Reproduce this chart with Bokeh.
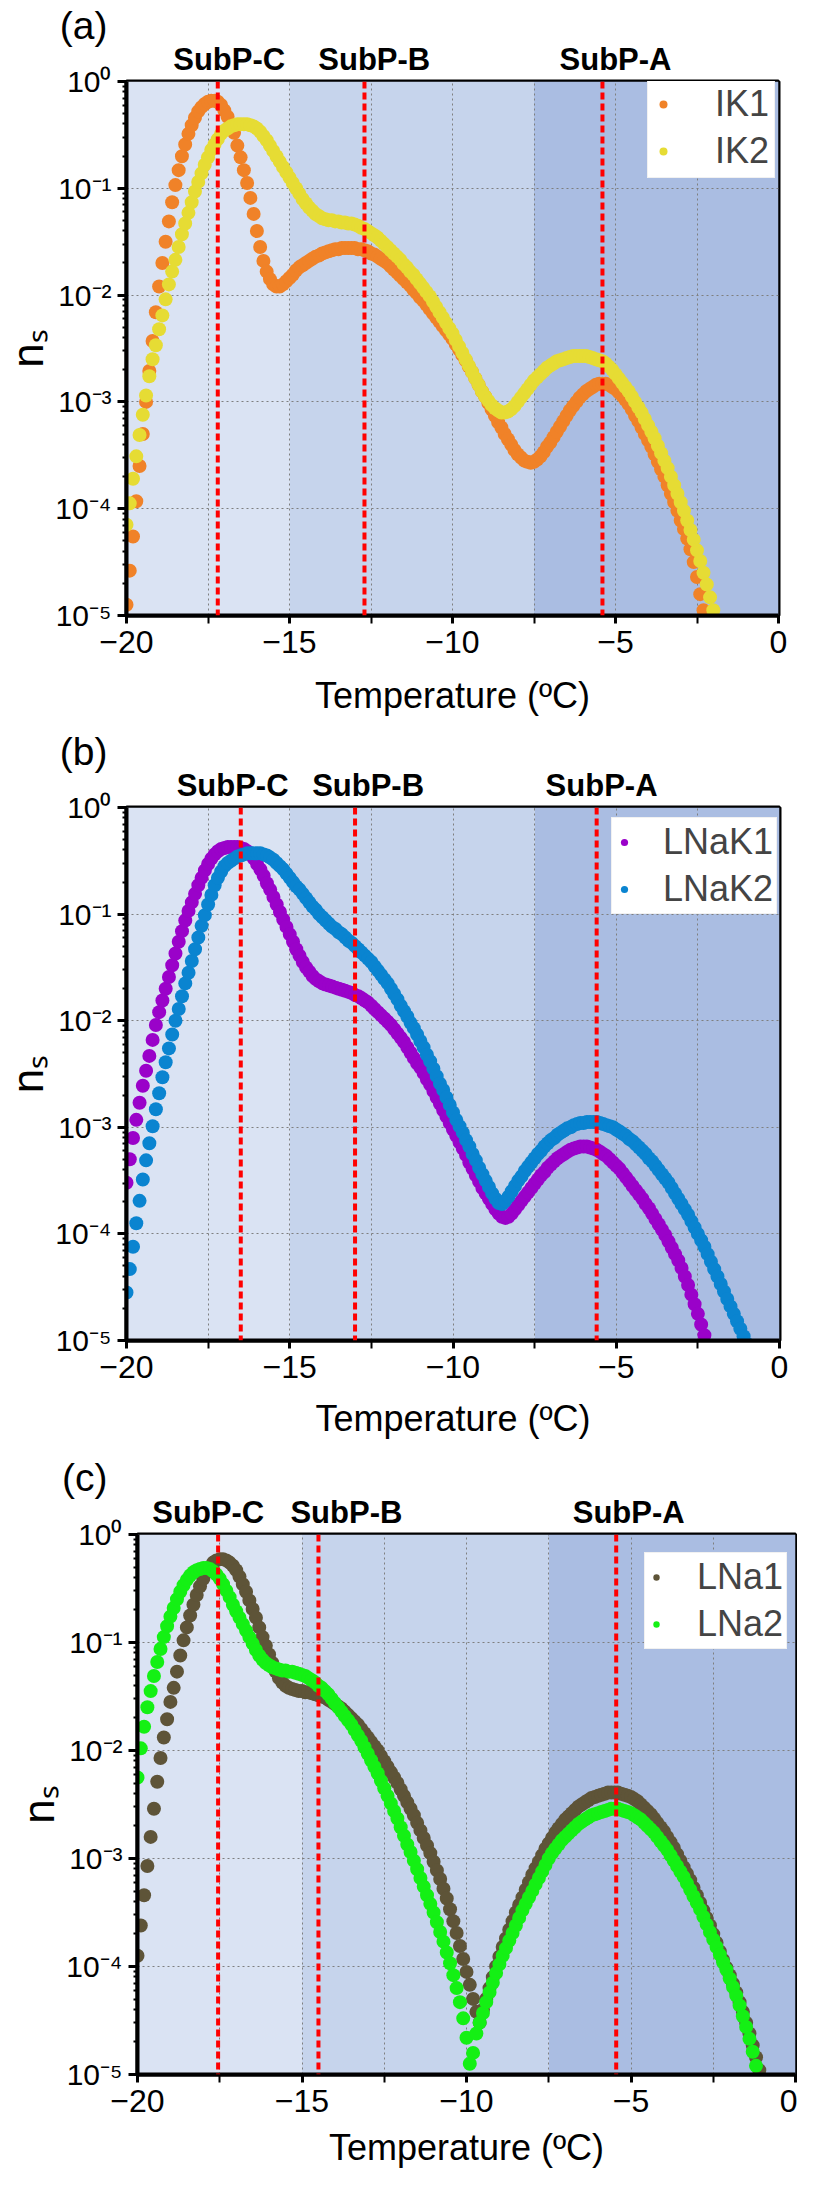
import numpy as np
import bokeh.layouts
import bokeh.models
import bokeh.plotting
from bokeh.embed import file_html
from bokeh.resources import INLINE

FONT = "Liberation Sans"

# every series is sampled each 0.1 degC starting at -20.0
t_start = -20.0
t_step = 0.1

# log10(n_s)
ik1_log = [
    -4.90, -4.58, -4.26, -3.93, -3.60, -3.30, -3.00, -2.71, -2.43, -2.16,
    -1.92, -1.70, -1.50, -1.31, -1.13, -0.97, -0.83, -0.70, -0.59, -0.49,
    -0.41, -0.34, -0.28, -0.24, -0.21, -0.19, -0.18, -0.18, -0.19, -0.22,
    -0.27, -0.33, -0.40, -0.48, -0.60, -0.71, -0.83, -0.95, -1.09, -1.24,
    -1.40, -1.55, -1.68, -1.78, -1.85, -1.90, -1.92, -1.92, -1.90, -1.87,
    -1.84, -1.81, -1.77, -1.74, -1.72, -1.70, -1.68, -1.66, -1.64, -1.63,
    -1.61, -1.60, -1.59, -1.58, -1.57, -1.57, -1.56, -1.56, -1.56, -1.56,
    -1.56, -1.57, -1.57, -1.58, -1.59, -1.61, -1.62, -1.64, -1.66, -1.68,
    -1.70, -1.73, -1.76, -1.79, -1.82, -1.85, -1.88, -1.91, -1.95, -1.98,
    -2.02, -2.05, -2.09, -2.13, -2.17, -2.21, -2.25, -2.29, -2.33, -2.37,
    -2.41, -2.46, -2.51, -2.56, -2.61, -2.67, -2.72, -2.78, -2.84, -2.90,
    -2.95, -3.01, -3.07, -3.13, -3.19, -3.24, -3.30, -3.35, -3.40, -3.45,
    -3.49, -3.52, -3.55, -3.56, -3.57, -3.56, -3.54, -3.51, -3.47, -3.42,
    -3.38, -3.33, -3.28, -3.23, -3.18, -3.13, -3.08, -3.04, -3.00, -2.96,
    -2.93, -2.90, -2.88, -2.86, -2.84, -2.83, -2.83, -2.83, -2.84, -2.86,
    -2.88, -2.91, -2.94, -2.98, -3.02, -3.07, -3.13, -3.18, -3.24, -3.30,
    -3.36, -3.42, -3.49, -3.56, -3.63, -3.70, -3.78, -3.86, -3.94, -4.02,
    -4.11, -4.19, -4.28, -4.38, -4.50, -4.64, -4.80, -4.95, -5.10,
]
ik2_log = [
    -4.15, -3.95, -3.72, -3.51, -3.31, -3.12, -2.94, -2.76, -2.60, -2.47,
    -2.32, -2.19, -2.04, -1.90, -1.78, -1.67, -1.55, -1.43, -1.33, -1.23,
    -1.13, -1.03, -0.94, -0.86, -0.78, -0.71, -0.64, -0.59, -0.54, -0.49,
    -0.46, -0.44, -0.42, -0.41, -0.40, -0.40, -0.40, -0.40, -0.41, -0.42,
    -0.44, -0.47, -0.51, -0.55, -0.60, -0.65, -0.70, -0.75, -0.80, -0.85,
    -0.90, -0.95, -1.00, -1.05, -1.10, -1.14, -1.18, -1.21, -1.24, -1.26,
    -1.28, -1.29, -1.30, -1.30, -1.31, -1.31, -1.32, -1.32, -1.33, -1.33,
    -1.34, -1.35, -1.37, -1.38, -1.40, -1.42, -1.44, -1.46, -1.49, -1.52,
    -1.55, -1.58, -1.61, -1.64, -1.67, -1.71, -1.74, -1.78, -1.81, -1.85,
    -1.89, -1.93, -1.97, -2.01, -2.06, -2.11, -2.16, -2.21, -2.26, -2.31,
    -2.36, -2.42, -2.48, -2.54, -2.60, -2.66, -2.72, -2.78, -2.84, -2.90,
    -2.95, -2.99, -3.03, -3.06, -3.08, -3.10, -3.10, -3.09, -3.07, -3.04,
    -3.00, -2.96, -2.92, -2.88, -2.84, -2.80, -2.77, -2.74, -2.71, -2.68,
    -2.66, -2.64, -2.62, -2.61, -2.60, -2.59, -2.58, -2.57, -2.57, -2.57,
    -2.57, -2.57, -2.58, -2.59, -2.60, -2.61, -2.62, -2.64, -2.67, -2.70,
    -2.74, -2.78, -2.82, -2.86, -2.90, -2.95, -3.00, -3.05, -3.10, -3.16,
    -3.22, -3.28, -3.34, -3.41, -3.48, -3.55, -3.62, -3.70, -3.78, -3.86,
    -3.94, -4.02, -4.11, -4.20, -4.29, -4.39, -4.49, -4.60, -4.71, -4.83,
    -4.95, -5.07,
]
lnak1_log = [
    -3.52, -3.30, -3.10, -2.93, -2.77, -2.61, -2.47, -2.33, -2.18, -2.04,
    -1.92, -1.81, -1.70, -1.59, -1.48, -1.37, -1.26, -1.16, -1.06, -0.97,
    -0.89, -0.81, -0.73, -0.66, -0.59, -0.53, -0.48, -0.44, -0.41, -0.39,
    -0.38, -0.37, -0.37, -0.37, -0.37, -0.38, -0.39, -0.41, -0.44, -0.48,
    -0.53, -0.58, -0.64, -0.71, -0.77, -0.84, -0.91, -0.98, -1.05, -1.12,
    -1.19, -1.26, -1.33, -1.39, -1.45, -1.50, -1.54, -1.58, -1.61, -1.63,
    -1.65, -1.66, -1.67, -1.68, -1.69, -1.70, -1.71, -1.72, -1.73, -1.74,
    -1.76, -1.77, -1.79, -1.81, -1.83, -1.86, -1.89, -1.92, -1.95, -1.98,
    -2.01, -2.04, -2.08, -2.12, -2.16, -2.20, -2.25, -2.30, -2.35, -2.40,
    -2.44, -2.49, -2.55, -2.60, -2.66, -2.72, -2.78, -2.84, -2.90, -2.96,
    -3.02, -3.08, -3.14, -3.20, -3.26, -3.33, -3.39, -3.45, -3.51, -3.57,
    -3.62, -3.67, -3.72, -3.77, -3.81, -3.84, -3.85, -3.84, -3.81, -3.77,
    -3.73, -3.69, -3.65, -3.61, -3.57, -3.53, -3.49, -3.45, -3.42, -3.38,
    -3.35, -3.32, -3.29, -3.27, -3.25, -3.23, -3.21, -3.20, -3.19, -3.18,
    -3.18, -3.18, -3.19, -3.20, -3.21, -3.23, -3.25, -3.27, -3.30, -3.33,
    -3.36, -3.39, -3.43, -3.47, -3.51, -3.55, -3.59, -3.63, -3.67, -3.72,
    -3.76, -3.81, -3.86, -3.91, -3.96, -4.01, -4.07, -4.13, -4.19, -4.25,
    -4.32, -4.40, -4.48, -4.57, -4.66, -4.75, -4.85, -4.95, -5.05,
]
lnak2_log = [
    -4.55, -4.33, -4.12, -3.90, -3.69, -3.49, -3.31, -3.15, -2.99, -2.83,
    -2.68, -2.53, -2.39, -2.26, -2.13, -2.00, -1.89, -1.77, -1.65, -1.55,
    -1.44, -1.33, -1.22, -1.11, -1.01, -0.91, -0.82, -0.73, -0.66, -0.60,
    -0.55, -0.52, -0.50, -0.48, -0.46, -0.45, -0.44, -0.43, -0.43, -0.43,
    -0.43, -0.43, -0.44, -0.45, -0.47, -0.49, -0.52, -0.55, -0.58, -0.62,
    -0.66, -0.70, -0.74, -0.77, -0.81, -0.85, -0.89, -0.93, -0.96, -1.00,
    -1.03, -1.06, -1.09, -1.12, -1.14, -1.17, -1.19, -1.22, -1.25, -1.27,
    -1.30, -1.33, -1.36, -1.39, -1.42, -1.45, -1.49, -1.53, -1.57, -1.61,
    -1.65, -1.70, -1.75, -1.80, -1.86, -1.91, -1.96, -2.02, -2.07, -2.13,
    -2.19, -2.25, -2.32, -2.38, -2.45, -2.52, -2.59, -2.65, -2.72, -2.79,
    -2.86, -2.93, -2.99, -3.05, -3.12, -3.18, -3.25, -3.31, -3.38, -3.44,
    -3.50, -3.56, -3.62, -3.67, -3.71, -3.72, -3.69, -3.65, -3.60, -3.55,
    -3.50, -3.46, -3.41, -3.37, -3.33, -3.29, -3.25, -3.22, -3.18, -3.15,
    -3.12, -3.10, -3.07, -3.05, -3.03, -3.01, -3.00, -2.98, -2.97, -2.96,
    -2.96, -2.95, -2.95, -2.95, -2.95, -2.96, -2.97, -2.98, -2.99, -3.00,
    -3.02, -3.04, -3.06, -3.08, -3.11, -3.13, -3.16, -3.19, -3.22, -3.25,
    -3.29, -3.32, -3.36, -3.40, -3.44, -3.48, -3.52, -3.57, -3.62, -3.67,
    -3.72, -3.77, -3.82, -3.88, -3.94, -4.00, -4.06, -4.12, -4.19, -4.26,
    -4.33, -4.40, -4.47, -4.54, -4.61, -4.68, -4.75, -4.82, -4.89, -4.96,
    -5.03,
]
lna1_log = [
    -3.90, -3.62, -3.34, -3.07, -2.80, -2.54, -2.29, -2.07, -1.88, -1.71,
    -1.55, -1.42, -1.27, -1.12, -0.98, -0.86, -0.75, -0.65, -0.56, -0.48,
    -0.41, -0.35, -0.30, -0.26, -0.24, -0.23, -0.23, -0.24, -0.26, -0.29,
    -0.33, -0.39, -0.46, -0.53, -0.61, -0.69, -0.77, -0.86, -0.95, -1.03,
    -1.11, -1.19, -1.27, -1.33, -1.37, -1.40, -1.42, -1.43, -1.44, -1.45,
    -1.45, -1.46, -1.46, -1.47, -1.48, -1.49, -1.50, -1.51, -1.53, -1.55,
    -1.57, -1.59, -1.61, -1.64, -1.67, -1.70, -1.73, -1.76, -1.80, -1.84,
    -1.88, -1.92, -1.96, -2.00, -2.05, -2.10, -2.15, -2.20, -2.25, -2.30,
    -2.36, -2.42, -2.48, -2.54, -2.60, -2.67, -2.74, -2.81, -2.88, -2.95,
    -3.03, -3.11, -3.19, -3.28, -3.37, -3.47, -3.58, -3.69, -3.81, -3.93,
    -4.05, -4.17, -4.30, -4.42, -4.52, -4.40, -4.30, -4.20, -4.10, -4.00,
    -3.91, -3.82, -3.74, -3.66, -3.58, -3.50, -3.43, -3.36, -3.29, -3.22,
    -3.15, -3.09, -3.03, -2.97, -2.91, -2.86, -2.81, -2.76, -2.72, -2.68,
    -2.64, -2.61, -2.58, -2.55, -2.52, -2.50, -2.48, -2.46, -2.44, -2.43,
    -2.42, -2.41, -2.40, -2.39, -2.39, -2.39, -2.39, -2.40, -2.41, -2.42,
    -2.43, -2.45, -2.47, -2.50, -2.53, -2.56, -2.59, -2.63, -2.67, -2.71,
    -2.75, -2.80, -2.85, -2.90, -2.96, -3.02, -3.08, -3.14, -3.20, -3.27,
    -3.34, -3.41, -3.48, -3.55, -3.62, -3.70, -3.78, -3.86, -3.94, -4.01,
    -4.08, -4.16, -4.24, -4.33, -4.42, -4.52, -4.62, -4.73, -4.84, -4.96,
    -5.08,
]
lna2_log = [
    -2.25, -1.98, -1.78, -1.60, -1.45, -1.31, -1.18, -1.06, -0.95, -0.85,
    -0.76, -0.68, -0.60, -0.53, -0.47, -0.42, -0.38, -0.35, -0.33, -0.32,
    -0.31, -0.31, -0.32, -0.34, -0.37, -0.41, -0.46, -0.52, -0.58, -0.65,
    -0.71, -0.77, -0.83, -0.89, -0.95, -1.01, -1.07, -1.12, -1.16, -1.19,
    -1.21, -1.23, -1.24, -1.25, -1.26, -1.26, -1.27, -1.27, -1.28, -1.29,
    -1.30, -1.31, -1.33, -1.35, -1.37, -1.40, -1.42, -1.45, -1.48, -1.52,
    -1.56, -1.60, -1.64, -1.68, -1.72, -1.76, -1.81, -1.86, -1.91, -1.97,
    -2.03, -2.09, -2.15, -2.21, -2.28, -2.35, -2.42, -2.49, -2.56, -2.63,
    -2.71, -2.79, -2.87, -2.94, -3.02, -3.10, -3.18, -3.26, -3.34, -3.42,
    -3.50, -3.59, -3.68, -3.77, -3.87, -3.97, -4.08, -4.20, -4.33, -4.48,
    -4.66, -4.90, -4.80, -4.62, -4.52, -4.43, -4.33, -4.24, -4.15, -4.06,
    -3.98, -3.90, -3.83, -3.76, -3.69, -3.62, -3.55, -3.48, -3.42, -3.36,
    -3.30, -3.24, -3.18, -3.12, -3.06, -3.00, -2.95, -2.91, -2.87, -2.83,
    -2.80, -2.77, -2.74, -2.71, -2.68, -2.66, -2.64, -2.62, -2.60, -2.59,
    -2.58, -2.57, -2.56, -2.55, -2.54, -2.54, -2.54, -2.55, -2.56, -2.57,
    -2.58, -2.60, -2.62, -2.64, -2.67, -2.70, -2.73, -2.76, -2.80, -2.84,
    -2.88, -2.92, -2.97, -3.02, -3.07, -3.12, -3.17, -3.23, -3.29, -3.35,
    -3.41, -3.47, -3.54, -3.61, -3.68, -3.75, -3.82, -3.89, -3.96, -4.03,
    -4.11, -4.19, -4.27, -4.36, -4.46, -4.56, -4.67, -4.79, -4.92, -5.05,
]

# shaded temperature bands and their colours
band_edges = [-20, -15, -7.5, 0]
band_colors = ["#DAE3F3", "#C6D4EC", "#AABDE2"]

subp_names = ["SubP-C", "SubP-B", "SubP-A"]
subp_lines_a = [-17.2, -12.7, -5.4]
subp_lines_b = [-16.5, -13.0, -5.6]
subp_lines_c = [-17.55, -14.5, -5.45]
subp_text_a = [-16.85, -12.4, -5.0]
subp_text_b = [-16.75, -12.6, -5.45]
subp_text_c = [-17.85, -13.65, -5.07]

x_ticks = [-20, -15, -10, -5, 0]
x_minor = [-17.5, -12.5, -7.5, -2.5]
y_ticks = [1e-5, 1e-4, 1e-3, 1e-2, 1e-1, 1]

y_fmt = bokeh.models.CustomJSTickFormatter(code="""
const e = Math.round(Math.log10(tick));
const sup = {"-": "\u207b", "0": "\u2070", "1": "\u00b9", "2": "\u00b2",
             "3": "\u00b3", "4": "\u2074", "5": "\u2075"};
let s = "";
for (const ch of String(e)) { s += sup[ch]; }
return "10" + s;
""")
x_fmt = bokeh.models.CustomJSTickFormatter(code="""
return tick < 0 ? "\u2212" + Math.abs(tick) : String(tick);
""")


def bare_top_axis(ticks, formatter, size, style, standoff):
    # an axis with no line and no ticks, used only to write texts above the frame
    return bokeh.models.LinearAxis(
        ticker=bokeh.models.FixedTicker(ticks=ticks, minor_ticks=[]),
        formatter=formatter,
        axis_line_color=None,
        major_tick_line_color=None,
        minor_tick_line_color=None,
        major_tick_out=0,
        major_tick_in=0,
        major_label_standoff=standoff,
        major_label_text_font=FONT,
        major_label_text_font_style=style,
        major_label_text_font_size=size,
        major_label_text_color="black",
    )


def make_panel(cfg):
    fw, fh = cfg["fw"], cfg["fh"]

    p = bokeh.plotting.figure(
        width=cfg["w"],
        height=cfg["h"],
        x_range=(-20, 0),
        y_range=(1e-5, 1),
        y_axis_type="log",
        title=None,
        output_backend="svg",
        toolbar_location=None,
        min_border_left=122,
        min_border_top=cfg["top"],
        min_border_right=cfg["w"] - 122 - fw,
        min_border_bottom=cfg["h"] - cfg["top"] - fh,
    )

    for i, col in enumerate(band_colors):
        p.add_layout(bokeh.models.BoxAnnotation(
            left=band_edges[i], right=band_edges[i + 1],
            fill_color=col, fill_alpha=1, line_color=None, level="image"))

    p.xaxis.ticker = bokeh.models.FixedTicker(ticks=x_ticks, minor_ticks=x_minor)
    p.xgrid.ticker = p.xaxis.ticker
    p.yaxis.ticker = bokeh.models.FixedTicker(
        ticks=y_ticks, minor_ticks=[m * t for t in y_ticks[:-1] for m in range(2, 10)])
    for g in (p.xgrid, p.ygrid):
        g.grid_line_color = "#7F7F7F"
        g.grid_line_dash = "2 3"
        g.grid_line_width = 1
    p.xgrid.minor_grid_line_color = "#7F7F7F"
    p.xgrid.minor_grid_line_dash = "2 3"
    p.xgrid.minor_grid_line_width = 1

    for name, col, logs in zip(cfg["names"], cfg["colors"], cfg["logs"]):
        t = np.round(t_start + t_step * np.arange(len(logs)), 1)
        src = bokeh.models.ColumnDataSource(dict(t=t, ns=10 ** np.array(logs)))
        p.scatter("t", "ns", source=src, size=14, fill_color=col,
                  line_color=None, legend_label=name)

    for loc in cfg["lines"]:
        p.add_layout(bokeh.models.Span(location=loc, dimension="height",
                                       line_color="#FF0000", line_width=4,
                                       line_dash="7 4"))

    p.outline_line_color = "black"
    p.outline_line_width = 4
    p.outline_line_alpha = 1

    for ax in (p.xaxis, p.yaxis):
        ax.axis_line_width = 4
        ax.major_tick_line_width = 3
        ax.minor_tick_line_width = 2
        ax.major_tick_in = 0
        ax.minor_tick_in = 0
        ax.major_label_text_font = FONT
        ax.major_label_text_color = "black"
        ax.axis_label_text_font = FONT
        ax.axis_label_text_font_style = "normal"
        ax.axis_label_text_color = "black"
    p.xaxis.major_tick_out = 8
    p.xaxis.minor_tick_out = 8
    p.xaxis.formatter = x_fmt
    p.xaxis.major_label_text_font_size = "32px"
    p.xaxis.major_label_standoff = 7
    p.xaxis.axis_label = "Temperature (\u00baC)"
    p.xaxis.axis_label_text_font_size = "36px"
    p.xaxis.axis_label_standoff = cfg["title_standoff"]

    p.yaxis.major_tick_out = 9
    p.yaxis.minor_tick_out = 4
    p.yaxis.formatter = y_fmt
    p.yaxis.major_label_text_font_size = "30px"
    p.yaxis.major_label_standoff = 6
    p.yaxis.axis_label = "n\u209b"
    p.yaxis.axis_label_text_font_size = "44px"
    p.yaxis.axis_label_standoff = 0

    # sub-population names just above the frame
    names_fmt = bokeh.models.CustomJSTickFormatter(
        args=dict(pos=cfg["subp_x"], names=subp_names), code="""
let best = 0;
for (let k = 0; k < pos.length; k++) {
  if (Math.abs(pos[k] - tick) < Math.abs(pos[best] - tick)) { best = k; }
}
return names[best];
""")
    p.add_layout(bare_top_axis(cfg["subp_x"], names_fmt, "31px", "bold", 5), "above")

    # panel tag: centred on the left edge of the frame, padded on its right
    # with wide spaces so that the visible part sits left of the frame
    tag_fmt = bokeh.models.CustomJSTickFormatter(
        args=dict(text=cfg["tag"] + cfg["tag_pad"]), code="return text;")
    p.add_layout(bare_top_axis([-20], tag_fmt, "39px", "normal", cfg["tag_standoff"]),
                 "above")

    leg = p.legend[0]
    leg.location = cfg["legend_xy"]
    leg.margin = 0
    leg.padding = cfg["legend_pad"]
    leg.spacing = 5
    leg.glyph_width = cfg["glyph_w"]
    leg.label_standoff = cfg["standoff"]
    leg.label_text_font = FONT
    leg.label_text_font_size = "36px"
    leg.background_fill_color = "white"
    leg.background_fill_alpha = 1
    leg.border_line_color = "#E4E4E4"
    leg.border_line_width = 1
    return p


panels = [
    dict(tag="(a)", names=["IK1", "IK2"], colors=["#F08228", "#E6DC34"],
         logs=[ik1_log, ik2_log], lines=subp_lines_a, subp_x=subp_text_a,
         w=797, h=726, top=75, fw=656, fh=540,
         tag_pad="\u2003\u2003\u2009", tag_standoff=-8,
         title_standoff=19, legend_xy=(521, 437),
         legend_pad=5, glyph_w=20, standoff=42),
    dict(tag="(b)", names=["LNaK1", "LNaK2"], colors=["#9A02C9", "#0A84D0"],
         logs=[lnak1_log, lnak2_log], lines=subp_lines_b, subp_x=subp_text_b,
         w=797, h=726, top=75, fw=657, fh=539,
         tag_pad="\u2003\u2003\u2009", tag_standoff=-8,
         title_standoff=17, legend_xy=(485, 426),
         legend_pad=3, glyph_w=18, standoff=30),
    dict(tag="(c)", names=["LNa1", "LNa2"], colors=["#5E5438", "#14F014"],
         logs=[lna1_log, lna2_log], lines=subp_lines_c, subp_x=subp_text_c,
         w=786, h=725, top=76, fw=662, fh=546,
         tag_pad="\u2003\u2003\u2002\u2009", tag_standoff=-7,
         title_standoff=12, legend_xy=(507, 425),
         legend_pad=3, glyph_w=16, standoff=33),
]

figs = [make_panel(cfg) for cfg in panels]
# each plot sits in its own row so the column does not line up their borders;
# panel (c) is shifted right by a spacer as in the original figure
p = bokeh.layouts.column(
    bokeh.layouts.row(figs[0]),
    bokeh.layouts.row(figs[1]),
    bokeh.layouts.row(bokeh.models.Spacer(width=11, height=725), figs[2]),
    spacing=0,
)

open("out.html", "w").write(file_html(p, INLINE))
